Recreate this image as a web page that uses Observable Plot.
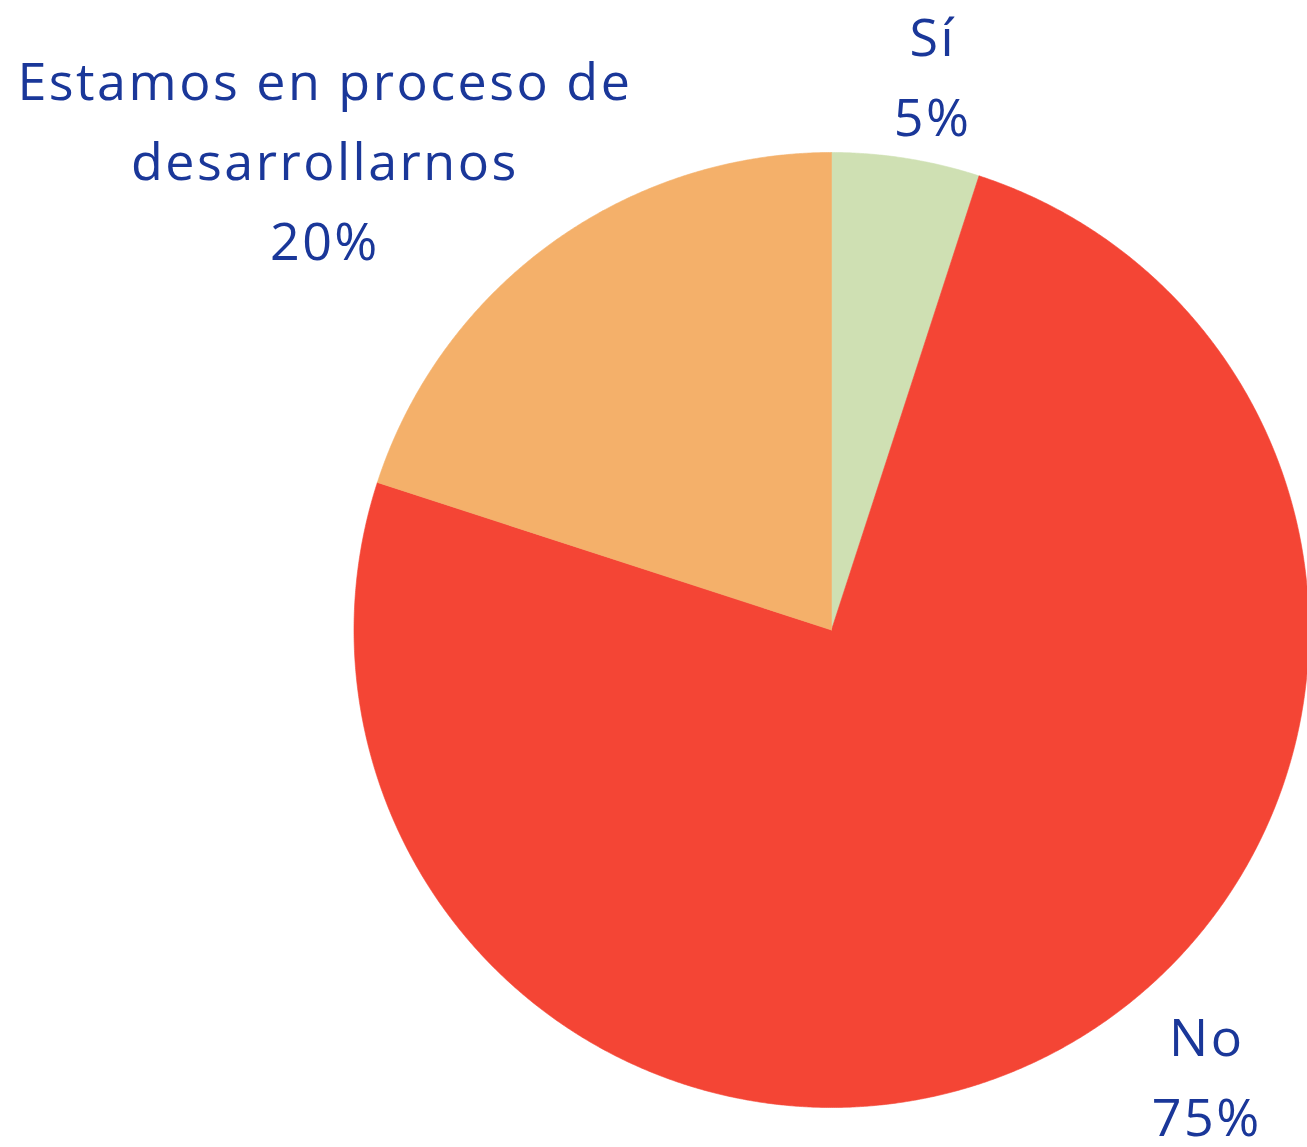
<!DOCTYPE html>
<html>
<head>
<meta charset="utf-8">
<script src="https://cdn.jsdelivr.net/npm/d3@7"></script>
<script src="https://cdn.jsdelivr.net/npm/@observablehq/plot@0.6"></script>
<style>
  html, body { margin: 0; padding: 0; background: #ffffff; }
  #chart svg { display: block; }
</style>
</head>
<body>
<div id="chart"></div>
<script>
// ---- Data ----
const categories = ["Sí", "No", "Estamos en proceso de\ndesarrollarnos"];
const percents = [5, 75, 20];
const colors = ["#cfe0b3", "#f44535", "#f4b06a"];

// ---- Build slices with d3.pie (angles clockwise from 12 o'clock) ----
const arcs = d3.pie().sort(null).value(d => d)(percents);
const slicePoints = [];
arcs.forEach((a, i) => {
  const cat = categories[i];
  slicePoints.push({cat, x: 0, y: 0});
  const steps = Math.max(2, Math.ceil((a.endAngle - a.startAngle) / (Math.PI / 720)));
  for (let k = 0; k <= steps; k++) {
    const t = a.startAngle + (a.endAngle - a.startAngle) * k / steps;
    slicePoints.push({cat, x: Math.sin(t), y: Math.cos(t)});
  }
  slicePoints.push({cat, x: 0, y: 0});
});

// label placement (layout, in radius units relative to pie centre)
const labelPos = [
  {x: 0.212, y: 1.172},
  {x: 0.786, y: -0.922},
  {x: -1.061, y: 0.996}
];
const labels = categories.map((c, i) => ({
  text: `${c}\n${percents[i]}%`,
  x: labelPos[i].x,
  y: labelPos[i].y
}));

const chart = Plot.plot({
  width: 1307,
  height: 1147,
  margin: 0,
  style: {background: "#ffffff", fontFamily: "'Open Sans', sans-serif", letterSpacing: "2.5px"},
  x: {domain: [-1, 1], range: [353.5, 1308.5], axis: null},
  y: {domain: [-1, 1], range: [1107, 152], axis: null},
  color: {domain: categories, range: colors},
  marks: [
    Plot.line(slicePoints, {
      x: "x", y: "y", z: "cat", fill: "cat", stroke: "cat",
      strokeWidth: 0.6, curve: "linear"
    }),
    Plot.text(labels, {
      x: "x", y: "y", text: "text",
      fill: "#1a3799", fontSize: 52, lineHeight: 1.54,
      lineAnchor: "middle", textAnchor: "middle"
    })
  ]
});
document.getElementById("chart").appendChild(chart);
</script>
</body>
</html>
